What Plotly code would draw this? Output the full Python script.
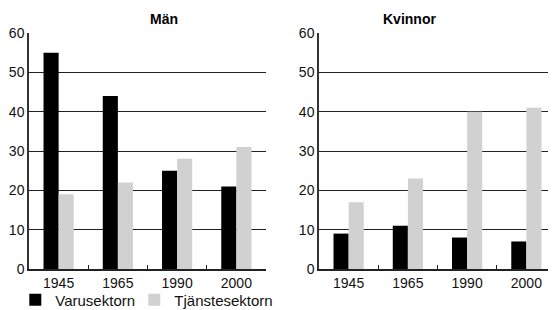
import plotly.graph_objects as go

years = ["1945", "1965", "1990", "2000"]
man_varu = [55, 44, 25, 21]
man_tjanst = [19, 22, 28, 31]
kv_varu = [9, 11, 8, 7]
kv_tjanst = [17, 23, 40, 41]
titles = ["Män", "Kvinnor"]
series_names = ["Varusektorn", "Tjänstesektorn"]
y_ticks = [0, 10, 20, 30, 40, 50, 60]

BLACK = "#000000"
GRAY = "#d0d1d0"
FONT = "Liberation Sans, Arial, Helvetica, sans-serif"

fig = go.Figure()
fig.add_trace(go.Bar(x=years, y=man_varu, name=series_names[0], marker_color=BLACK,
                     xaxis="x", yaxis="y", legendgroup="a", legend="legend"))
fig.add_trace(go.Bar(x=years, y=man_tjanst, name=series_names[1], marker_color=GRAY,
                     xaxis="x", yaxis="y", legendgroup="b", legend="legend2"))
fig.add_trace(go.Bar(x=years, y=kv_varu, name=series_names[0], marker_color=BLACK,
                     xaxis="x2", yaxis="y2", showlegend=False, legendgroup="a"))
fig.add_trace(go.Bar(x=years, y=kv_tjanst, name=series_names[1], marker_color=GRAY,
                     xaxis="x2", yaxis="y2", showlegend=False, legendgroup="b"))
for t in fig.data:
    t.marker.line.width = 0

# the page body has an 8px margin, so the figure is drawn 8px in from the top-left
OFF = 8
W, H = 556 - OFF, 310 - OFF
ml, mt = 29 - OFF, 33 - OFF
mr = 0
mb = H - (269 - OFF)
pw = W - ml - mr
d1 = [0, (266 - 29) / pw]
d2 = [(319 - 29) / pw, 1.0]

xcommon = dict(type="category", showline=True, linecolor="#222", linewidth=2,
               ticks="inside", tickson="boundaries", ticklen=4, tickcolor="#222", tickwidth=1,
               showgrid=False, tickfont=dict(size=14, color="#111", family=FONT),
               fixedrange=True, automargin=False)
ycommon = dict(range=[0, 60], tickvals=y_ticks, showline=True, linecolor="#333", linewidth=1.5,
               showgrid=True, gridcolor="#222", gridwidth=1, zeroline=False, ticks="",
               tickfont=dict(size=14, color="#111", family=FONT), ticklabelstandoff=0,
               fixedrange=True, automargin=False)

legcommon = dict(orientation="h", xanchor="left", y=-0.131, yanchor="middle",
                 bgcolor="rgba(0,0,0,0)",
                 font=dict(size=15, family=FONT, color="#111"),
                 itemclick=False, itemdoubleclick=False)

fig.update_layout(
    width=W, height=H,
    margin=dict(l=ml, r=mr, t=mt, b=mb, autoexpand=False),
    paper_bgcolor="white", plot_bgcolor="white",
    barmode="group", bargap=0.49, bargroupgap=0,
    font=dict(family=FONT, size=14, color="#111"),
    xaxis=dict(domain=d1, anchor="y", **xcommon),
    yaxis=dict(domain=[0, 1], anchor="x", **ycommon),
    xaxis2=dict(domain=d2, anchor="y2", **xcommon),
    yaxis2=dict(domain=[0, 1], anchor="x2", **ycommon),
    legend=dict(x=-0.026, **legcommon),
    legend2=dict(x=0.1998, **legcommon),
    showlegend=True,
    annotations=[
        dict(text="<b>" + titles[0] + "</b>", x=(d1[0] + d1[1]) / 2, xref="paper",
             y=1, yref="paper", yanchor="bottom", yshift=4, showarrow=False,
             font=dict(size=14, family=FONT, color="#000")),
        dict(text="<b>" + titles[1] + "</b>", x=(d2[0] + d2[1]) / 2, xref="paper",
             y=1, yref="paper", yanchor="bottom", yshift=4, showarrow=False,
             font=dict(size=14, family=FONT, color="#000")),
    ],
)

fig.write_html("out.html")
